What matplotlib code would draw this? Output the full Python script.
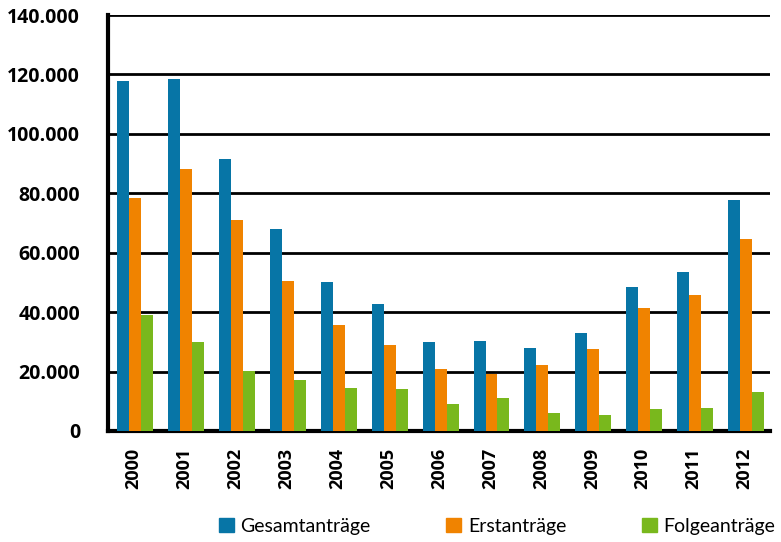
import matplotlib.pyplot as plt
import numpy as np
from matplotlib.patches import Patch

years = ["2000", "2001", "2002", "2003", "2004", "2005", "2006",
         "2007", "2008", "2009", "2010", "2011", "2012"]
gesamt = [117648, 118306, 91471, 67848, 50152, 42908, 30100,
          30303, 28018, 33033, 48589, 53347, 77651]
erst = [78564, 88287, 71127, 50563, 35607, 28914, 21029,
        19164, 22085, 27649, 41332, 45741, 64539]
folge = [39084, 30019, 20344, 17285, 14545, 13994, 9071,
         11139, 5933, 5384, 7257, 7606, 13112]
labels = ["Gesamtanträge", "Erstanträge", "Folgeanträge"]
colors = ["#0775a6", "#f08300", "#79b81d"]

fig = plt.figure(figsize=(7.81, 5.42), dpi=100)
ax = fig.add_axes([0.1383, 0.2048, 0.8477, 0.7675])

x = np.arange(len(years))
w = 0.235
for i, (vals, c) in enumerate(zip([gesamt, erst, folge], colors)):
    ax.bar(x + (i - 1) * w + 0.03, vals, w, color=c, zorder=3)

ax.set_xlim(-0.5, len(years) - 0.5)
ax.set_ylim(0, 140000)
ax.set_yticks(np.arange(0, 140001, 20000))
ax.set_yticklabels([f"{v:,}".replace(",", ".") if v else "0" for v in range(0, 140001, 20000)],
                   fontsize=14, fontweight="bold", family="Open Sans")
ax.set_xticks(x)
ax.set_xticklabels(years, rotation=90, fontsize=13, fontweight="bold", family="Open Sans")
ax.tick_params(axis="both", length=0)
ax.tick_params(axis="y", pad=20)
ax.tick_params(axis="x", pad=12)

ax.grid(axis="y", color="black", linewidth=2, zorder=0)
for s in ["top", "right"]:
    ax.spines[s].set_visible(False)
ax.spines["left"].set_linewidth(3)
ax.spines["bottom"].set_linewidth(3)

handles = [Patch(color=c) for c in colors]
fig.legend(handles, labels, loc="lower left", bbox_to_anchor=(0.263, -0.012), ncol=3,
           frameon=False, prop={"family": "Lato", "size": 14},
           handlelength=0.75, handleheight=0.75, handletextpad=0.35, columnspacing=3.9,
           borderpad=0.2)

fig.savefig("out.png", dpi=100)
